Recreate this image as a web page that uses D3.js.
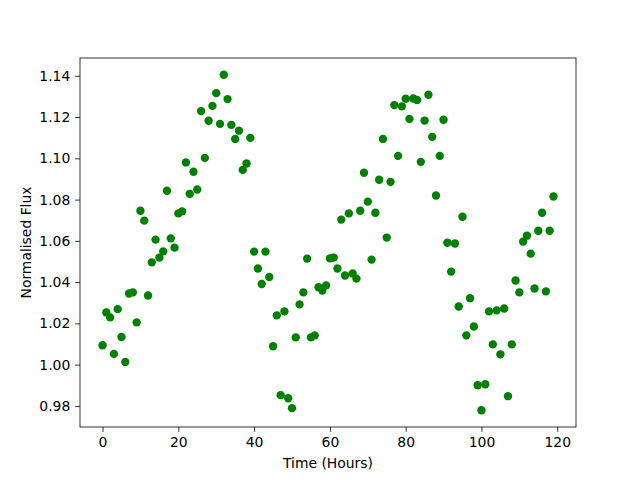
<!DOCTYPE html>
<html><head><meta charset="utf-8">
<script src="https://cdn.jsdelivr.net/npm/d3@7"></script>
<style>body{margin:0;background:#fff}svg{display:block}</style>
</head><body>
<script>
const hours = d3.range(0, 120);
const flux = [
1.0094,1.0253,1.0229,1.0052,1.0269,1.0134,1.0013,1.0345,1.0350,1.0205,
1.0746,1.0698,1.0335,1.0496,1.0606,1.0519,1.0549,1.0843,1.0612,1.0567,
1.0733,1.0743,1.0980,1.0828,1.0935,1.0849,1.1229,1.1002,1.1182,1.1254,
1.1316,1.1167,1.1405,1.1287,1.1162,1.1094,1.1134,1.0944,1.0975,1.1099,
1.0548,1.0466,1.0391,1.0548,1.0425,1.0089,1.0239,0.9852,1.0258,0.9837,
0.9789,1.0132,1.0292,1.0350,1.0514,1.0132,1.0142,1.0375,1.0359,1.0384,
1.0515,1.0519,1.0466,1.0703,1.0432,1.0733,1.0442,1.0417,1.0746,1.0930,
1.0790,1.0509,1.0736,1.0896,1.1094,1.0616,1.0886,1.1258,1.1012,1.1252,
1.1289,1.1191,1.1290,1.1283,1.0983,1.1183,1.1308,1.1104,1.0820,1.1012,
1.1187,1.0591,1.0451,1.0587,1.0282,1.0717,1.0142,1.0322,1.0185,0.9900,
0.9779,0.9905,1.0258,1.0098,1.0263,1.0050,1.0272,0.9847,1.0098,1.0408,
1.0350,1.0596,1.0625,1.0538,1.0369,1.0649,1.0736,1.0355,1.0649,1.0815
];
const xTicks = [0,20,40,60,80,100,120];
const yTicks = [0.98,1.00,1.02,1.04,1.06,1.08,1.10,1.12,1.14];
const xLabel = "Time (Hours)";
const yLabel = "Normalised Flux";

const W = 640, H = 480;
const L = 80, R = 576, T = 58, B = 427;
const svg = d3.select("body").append("svg").attr("width", W).attr("height", H)
  .style("font-family", "'DejaVu Sans', sans-serif");

const xmin = d3.min(hours), xmax = d3.max(hours);
const xm = (xmax - xmin) * 0.05;
const ymin = d3.min(flux), ymax = d3.max(flux);
const ym = (ymax - ymin) * 0.05;
const x = d3.scaleLinear().domain([xmin - xm, xmax + xm]).range([L, R]);
const y = d3.scaleLinear().domain([ymin - ym, ymax + ym]).range([B, T]);

const xa = svg.append("g").attr("transform", `translate(0,${B})`)
  .call(d3.axisBottom(x).tickValues(xTicks).tickFormat(d3.format("d")).tickSizeOuter(0).tickSize(4.86).tickPadding(4.86));
const ya = svg.append("g").attr("transform", `translate(${L},0)`)
  .call(d3.axisLeft(y).tickValues(yTicks).tickFormat(d3.format(".2f")).tickSizeOuter(0).tickSize(4.86).tickPadding(4.86));
[xa, ya].forEach(a => {
  a.select(".domain").remove();
  a.selectAll("line").attr("stroke", "#000").attr("stroke-width", 0.8);
  a.selectAll("text").attr("font-size", "13.9px").attr("fill", "#000").attr("font-family", "'DejaVu Sans', sans-serif");
});

svg.append("g").selectAll("circle").data(hours).join("circle")
  .attr("cx", (d) => x(d)).attr("cy", (d, i) => y(flux[i]))
  .attr("r", 4.17).attr("fill", "#008000");

svg.append("rect").attr("x", L).attr("y", T).attr("width", R - L).attr("height", B - T)
  .attr("fill", "none").attr("stroke", "#000").attr("stroke-width", 0.8);

svg.append("text").attr("x", (L + R) / 2).attr("y", 468).attr("text-anchor", "middle")
  .attr("font-size", "13.9px").text(xLabel);
svg.append("text").attr("transform", `translate(31,${(T + B) / 2}) rotate(-90)`)
  .attr("text-anchor", "middle").attr("font-size", "13.9px").text(yLabel);
</script>
</body></html>
